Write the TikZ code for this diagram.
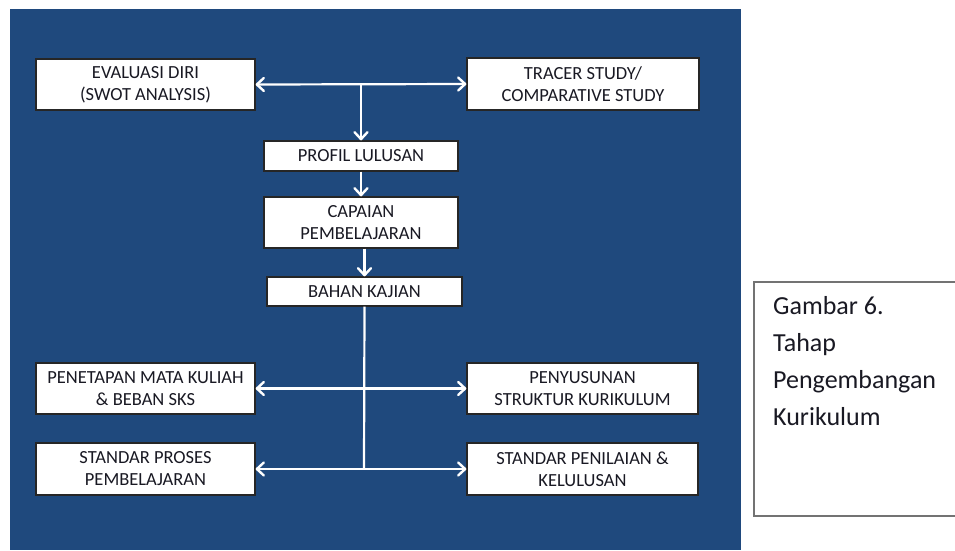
\documentclass[tikz,border=0pt]{standalone}
\usepackage{fontspec}
\setmainfont{Carlito}
\usetikzlibrary{arrows.meta}
\definecolor{latar}{RGB}{31,73,125}
\definecolor{teks}{RGB}{25,25,35}
\tikzset{
  kotak/.style={draw=black!85, fill=white, line width=1.3pt, align=center, text=teks,
    font=\fontsize{18.5}{22}\selectfont, inner sep=0pt},
  ujung/.tip={Straight Barb[length=7pt,width=13pt,line width=2.4pt,round]},
  panah/.style={white, line width=2.2pt, -ujung},
  panahdua/.style={white, line width=2.2pt, ujung-ujung}
}
\begin{document}
\begin{tikzpicture}[x=1pt, y=-1pt]
                \useasboundingbox (0,0) rectangle (955,550);
                \fill[white] (0,0) rectangle (955,550);
                \fill[latar] (10,9) rectangle (741,550);
                \node[kotak, minimum width=219pt, minimum height=51pt] (evaluasi) at (145.5,84.5) {EVALUASI DIRI\\(SWOT ANALYSIS)};
                \node[kotak, minimum width=232pt, minimum height=52pt] (tracer) at (583,84) {TRACER STUDY/\\COMPARATIVE STUDY};
                \node[kotak, minimum width=194pt, minimum height=30pt] (profil) at (361,156) {PROFIL LULUSAN};
                \node[kotak, minimum width=194pt, minimum height=51pt] (capaian) at (361,222.5) {CAPAIAN\\PEMBELAJARAN};
                \node[kotak, minimum width=195pt, minimum height=29pt] (bahan) at (364.5,291.5) {BAHAN KAJIAN};
                \node[kotak, minimum width=219pt, minimum height=51pt] (matakuliah) at (145.5,388.5) {PENETAPAN MATA KULIAH\\\& BEBAN SKS};
                \node[kotak, minimum width=219pt, minimum height=52pt] (proses) at (145.5,469) {STANDAR PROSES\\PEMBELAJARAN};
                \node[kotak, minimum width=231pt, minimum height=51pt] (struktur) at (582.5,388.5) {PENYUSUNAN\\STRUKTUR KURIKULUM};
                \node[kotak, minimum width=231pt, minimum height=52pt] (penilaian) at (582.5,469) {STANDAR PENILAIAN \&\\KELULUSAN};
                \coordinate (atas) at (361,84);
                \coordinate (bawah) at (364,469);
                \draw[panahdua] (evaluasi.east) -- (tracer.west);
                \draw[panah] (atas) -- (profil.north);
                \draw[panah] (profil.south) -- (capaian.north);
                \draw[panah] (capaian.south -| bahan.north) -- (bahan.north);
                \draw[white, line width=2.2pt] (bahan.south) -- (bawah);
                \draw[panahdua] (matakuliah.east) -- (struktur.west);
                \draw[panahdua] (proses.east) -- (penilaian.west);
                \draw[black!55, line width=1.4pt] (754,282) rectangle (962,516);
                \node[anchor=north west, align=left, text=teks, inner sep=0pt,
                  font=\fontsize{26}{37}\selectfont] (judul) at (773,296) {Gambar 6.\\Tahap\\Pengembangan\\Kurikulum};
            \end{tikzpicture}
\end{document}
